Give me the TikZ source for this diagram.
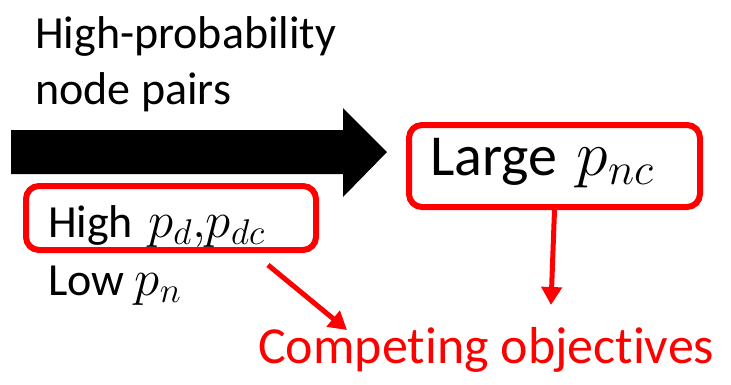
\RequirePackage{fix-cm}
\documentclass[tikz,border=0pt]{standalone}
\usepackage{fontspec}
\setmainfont[Ligatures=NoCommon]{Carlito}
\usetikzlibrary{calc,arrows.meta}
\def\fsize#1{\fontsize{#1}{#1}\selectfont}
\def\pmath#1#2{{\fsize{#1}$#2$}}
\tikzset{
	redbox/.style={draw=red, line width=6pt, rounded corners=13pt, inner xsep=22pt, inner ysep=4pt, align=left, anchor=base west},
	plaintext/.style={inner sep=0pt, anchor=base west},
	redarrow/.style={draw=red, line width=5pt, -{Triangle[length=18pt,width=20pt]}}
}

\begin{document}
\begin{tikzpicture}[x=1pt,y=-1pt]
		\useasboundingbox (0,0) rectangle (731,384);
		%%%%% START %%%%%
		
		\node[plaintext, font=\fsize{46}] (title1) at (35, 48) {High-probability};
		\node[plaintext, font=\fsize{46}] (title2) at (35, 104) {node pairs};
		
		\fill[black] (11, 130) -- (343, 130) -- (343, 108) -- (387, 152) -- (343, 197) -- (343, 174) -- (11, 174) -- cycle;
		
		\node[redbox, font=\fsize{46}, text width=246pt, text height=47pt, text depth=9pt] (hibox) at (23, 237) {High \pmath{51}{p_d,\!p_{dc}}};
		\node[plaintext, font=\fsize{46}] (low) at (48, 295) {Low \pmath{51}{p_n}};
		
		\node[redbox, font=\fsize{58}, inner xsep=21pt, text width=249pt, text height=46pt, text depth=28pt] (lgbox) at (406, 175) {Large \pmath{64}{p_{nc}}};
		
		\node[plaintext, font=\fsize{52}, text=red] (comp) at (258, 363) {Competing objectives};
		
		\draw[redarrow] ($(hibox.south)+(97, 12)$) -- ($(comp.base west)+(89, -33)$);
		\draw[redarrow] (lgbox.south) -- ($(comp.base west)+(293, -58)$);
		
		%%%%% END %%%%%
	\end{tikzpicture}
\end{document}
